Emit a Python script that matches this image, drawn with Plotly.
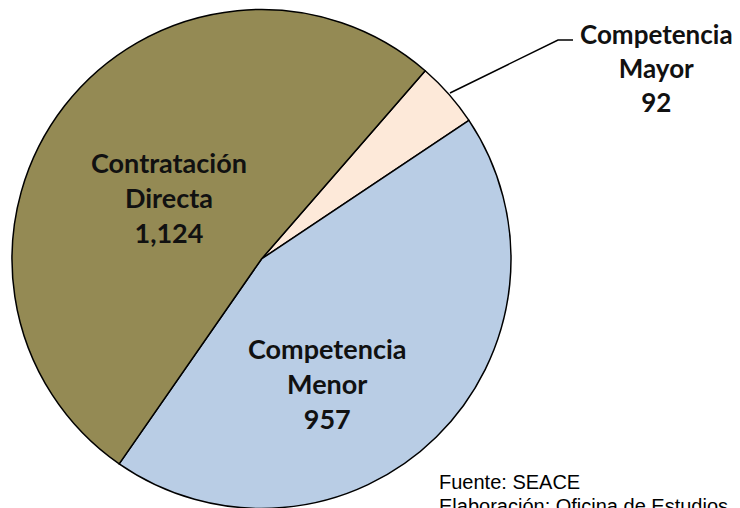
import plotly.graph_objects as go

# Data (clockwise order starting at the Directa/Mayor boundary)
categories = ["Competencia Mayor", "Competencia Menor", "Contratación Directa"]
values = [92, 957, 1124]
label_lines = [["Competencia", "Mayor"], ["Competencia", "Menor"], ["Contratación", "Directa"]]
colors = ["#FDE9D9", "#B9CDE5", "#948A54"]

source_text = "Fuente: SEACE"
credit_text = "Elaboración: Oficina de Estudios Económicos"

W, H = 740, 508
OFF = 8  # page body margin

def px(x):
    return (x - OFF) / W

def py(y):
    return 1 - (y - OFF) / H

fig = go.Figure()
fig.add_trace(go.Pie(
    labels=categories,
    values=values,
    sort=False,
    direction="clockwise",
    rotation=41,
    marker=dict(colors=colors, line=dict(color="#000000", width=1.5)),
    textinfo="none",
    hoverinfo="label+value",
    showlegend=False,
    domain=dict(x=[px(12), px(511)], y=[py(509), py(9)]),
))

def fmt(v):
    return f"{v:,}"

label_pos = [(656, 68), (327, 383), (169, 197)]
label_size = [26, 27, 27]
for lines, v, (x0, y0), fs in zip(label_lines, values, label_pos, label_size):
    fig.add_annotation(
        x=px(x0), y=py(y0), xref="paper", yref="paper",
        text="<br>".join(lines + [fmt(v)]),
        showarrow=False, xanchor="center", yanchor="middle",
        font=dict(family="Lato", size=fs, color="#111111", weight="bold"),
        align="center",
    )

# leader line for the small slice
fig.add_shape(type="path", xref="paper", yref="paper",
              path=f"M {px(450)} {py(93)} L {px(558)} {py(40)} L {px(573)} {py(40)}",
              line=dict(color="#000000", width=1.5))

fig.add_annotation(x=px(437), y=py(482), xref="paper", yref="paper",
                   text=source_text, showarrow=False, xanchor="left", yanchor="middle",
                   font=dict(family="Liberation Sans, Arial", size=20, color="#000000"))
fig.add_annotation(x=px(437), y=py(506), xref="paper", yref="paper",
                   text=credit_text, showarrow=False, xanchor="left", yanchor="middle",
                   font=dict(family="Liberation Sans, Arial", size=20, color="#000000"))

fig.update_layout(width=W, height=H, margin=dict(l=0, r=0, t=0, b=0),
                  paper_bgcolor="white", plot_bgcolor="white")
fig.write_html("out.html")
